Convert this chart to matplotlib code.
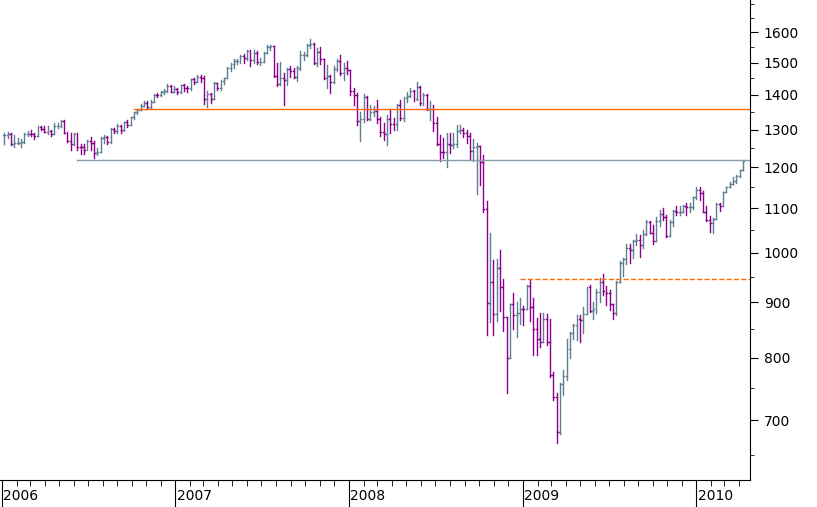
import matplotlib.pyplot as plt
import matplotlib.dates as mdates
from matplotlib.ticker import FixedLocator, NullFormatter
import datetime as dt

# Weekly S&P 500 bars (close, high, low)
close_2006 = [1285,1287,1261,1264,1265,1267,1287,1289,1287,1282,1307,1302,1295,1297,1289,1311,1311,1325,1291,1268,1261,1288,1253,1252,1245,1270,1265,1236,1241,1278,1279,1266,1303,1296,1311,1299,1321,1314,1336,1349,1357,1368,1377,1364,1380,1401,1400,1409,1413,1427,1410,1418]
high_2006 = [1290,1294,1290,1285,1276,1275,1290,1297,1300,1292,1310,1311,1310,1310,1300,1318,1318,1326,1326,1295,1290,1290,1292,1262,1260,1272,1280,1270,1250,1280,1285,1283,1305,1306,1315,1314,1322,1328,1336,1350,1360,1372,1381,1382,1384,1403,1407,1412,1417,1432,1431,1427]
low_2006 = [1260,1278,1259,1254,1260,1253,1265,1282,1282,1274,1283,1298,1293,1288,1283,1290,1306,1308,1290,1266,1245,1258,1245,1234,1234,1248,1245,1224,1231,1240,1263,1260,1265,1290,1290,1290,1296,1308,1315,1331,1344,1356,1366,1360,1362,1380,1395,1396,1404,1410,1408,1408]

close_2007 = [1409,1430,1422,1420,1448,1438,1456,1451,1387,1402,1387,1436,1420,1443,1452,1484,1494,1505,1505,1522,1515,1536,1507,1532,1502,1503,1530,1552,1553,1458,1433,1453,1445,1479,1473,1454,1484,1525,1526,1557,1561,1500,1535,1510,1453,1458,1440,1481,1504,1467,1484,1478]
high_2007 = [1420,1431,1432,1427,1449,1452,1461,1460,1459,1412,1407,1438,1437,1444,1453,1485,1498,1510,1513,1523,1529,1540,1540,1540,1539,1515,1535,1556,1556,1555,1498,1503,1466,1483,1488,1482,1488,1538,1535,1559,1576,1565,1546,1552,1510,1493,1460,1488,1512,1523,1498,1504]
low_2007 = [1403,1407,1412,1410,1415,1434,1438,1440,1374,1364,1377,1390,1414,1415,1433,1450,1474,1482,1496,1498,1500,1508,1490,1500,1497,1492,1502,1530,1542,1456,1427,1430,1370,1430,1455,1453,1442,1475,1508,1520,1546,1495,1490,1497,1448,1420,1406,1436,1474,1460,1445,1465]

close_2008 = [1411,1401,1325,1330,1395,1331,1349,1353,1331,1293,1288,1330,1316,1315,1370,1332,1390,1397,1413,1388,1425,1376,1400,1360,1360,1318,1262,1240,1239,1261,1257,1260,1296,1298,1292,1283,1242,1252,1255,1213,1099,899,940,877,968,930,873,800,896,876,879,888,887]
high_2008 = [1471,1420,1406,1350,1402,1396,1370,1368,1385,1335,1320,1341,1359,1333,1372,1386,1395,1410,1422,1416,1440,1426,1406,1404,1382,1371,1335,1285,1278,1292,1290,1290,1313,1313,1305,1300,1290,1275,1265,1255,1233,1116,1044,985,986,1006,946,870,896,918,900,908,892]
low_2008 = [1400,1370,1312,1270,1322,1326,1327,1338,1320,1282,1273,1257,1290,1300,1300,1326,1323,1380,1393,1383,1384,1370,1370,1356,1327,1297,1257,1215,1225,1200,1237,1249,1253,1290,1280,1265,1218,1217,1133,1155,1090,840,863,840,865,883,846,741,800,851,836,860,857]

close_2009 = [931,890,851,832,826,869,827,770,735,683,756,769,815,842,857,869,866,877,929,883,887,919,940,921,918,896,880,940,979,987,1010,1005,1026,1028,1016,1042,1068,1044,1025,1071,1087,1080,1036,1069,1093,1091,1092,1106,1102,1102,1126,1144,1137,1092,1073,1066,1075,1109,1104,1138,1150,1159,1166,1178,1192,1217]
high_2009 = [934,943,908,870,880,880,878,869,776,742,758,779,832,844,859,876,876,890,930,934,900,925,947,956,932,923,897,942,983,990,1018,1018,1027,1040,1039,1049,1073,1071,1060,1080,1095,1100,1083,1072,1096,1106,1106,1107,1112,1113,1126,1150,1150,1141,1105,1081,1078,1112,1112,1138,1151,1162,1175,1181,1194,1220]
low_2009 = [887,864,804,805,818,828,822,768,731,667,679,738,763,800,833,830,826,842,877,881,868,879,901,914,895,886,869,876,939,952,977,978,988,1017,992,1011,1038,1043,1020,1026,1058,1072,1035,1043,1058,1085,1083,1090,1085,1091,1099,1121,1119,1090,1070,1045,1044,1075,1093,1105,1138,1150,1157,1160,1176,1192]

# reference lines: (level, start date, style)
levels = [1360, 1220, 945]
level_starts = ['2006-10-06', '2006-06-09', '2008-12-26']
level_colors = ['#ff6a00', '#8a9aa8', '#ff6a00']
level_styles = ['-', '-', '--']

y_ticks = [700, 800, 900, 1000, 1100, 1200, 1300, 1400, 1500, 1600]
years = [2006, 2007, 2008, 2009, 2010]

closes = close_2006 + close_2007 + close_2008 + close_2009
highs = high_2006 + high_2007 + high_2008 + high_2009
lows = low_2006 + low_2007 + low_2008 + low_2009
assert len(closes) == len(highs) == len(lows)

start = dt.date(2006, 1, 6)
dates = [start + dt.timedelta(days=7 * i) for i in range(len(closes))]
xs = mdates.date2num(dates)

UP = '#5f7f8f'
DOWN = '#8b008b'

fig = plt.figure(figsize=(8.17, 5.07), dpi=100)
ax = fig.add_axes([0.0, 0.053, 0.918, 0.947])

prev = closes[0]
for x, c, h, l in zip(xs, closes, highs, lows):
    o = prev
    col = DOWN if c < o else UP
    h = max(h, o, c)
    l = min(l, o, c)
    ax.plot([x, x], [l, h], color=col, lw=1)
    ax.plot([x - 2, x], [o, o], color=col, lw=1)
    ax.plot([x, x + 2], [c, c], color=col, lw=1)
    prev = c

xmin = mdates.date2num(dt.date(2005, 12, 28))
xmax = mdates.date2num(dt.date(2010, 4, 24))
for lev, s, col, ls in zip(levels, level_starts, level_colors, level_styles):
    ax.plot([mdates.datestr2num(s), xmax], [lev, lev], color=col, lw=1, ls=ls)

ax.set_yscale('log')
ax.set_ylim(616, 1714)
ax.set_xlim(xmin, xmax)
ax.yaxis.tick_right()
ax.yaxis.set_major_locator(FixedLocator(y_ticks))
ax.yaxis.set_minor_locator(FixedLocator([650, 750, 850, 950, 1050, 1150, 1250, 1350, 1450, 1550, 1650, 1700]))
ax.yaxis.set_minor_formatter(NullFormatter())
ax.set_yticklabels([str(v) for v in y_ticks])
ax.tick_params(axis='y', which='major', length=6, labelsize=10, pad=4)
ax.tick_params(axis='y', which='minor', length=3)

ax.xaxis.set_major_locator(mdates.YearLocator())
ax.xaxis.set_minor_locator(mdates.MonthLocator())
ax.xaxis.set_major_formatter(NullFormatter())
ax.tick_params(axis='x', which='major', length=27, direction='out')
ax.tick_params(axis='x', which='minor', length=4, direction='out')
for y in years:
    ax.text(mdates.date2num(dt.date(y, 1, 1)) + 3, -0.018, str(y),
            transform=ax.get_xaxis_transform(), ha='left', va='top', fontsize=10)

ax.spines['top'].set_visible(False)
ax.spines['left'].set_visible(False)

fig.savefig('out.png', dpi=100, facecolor='white')
